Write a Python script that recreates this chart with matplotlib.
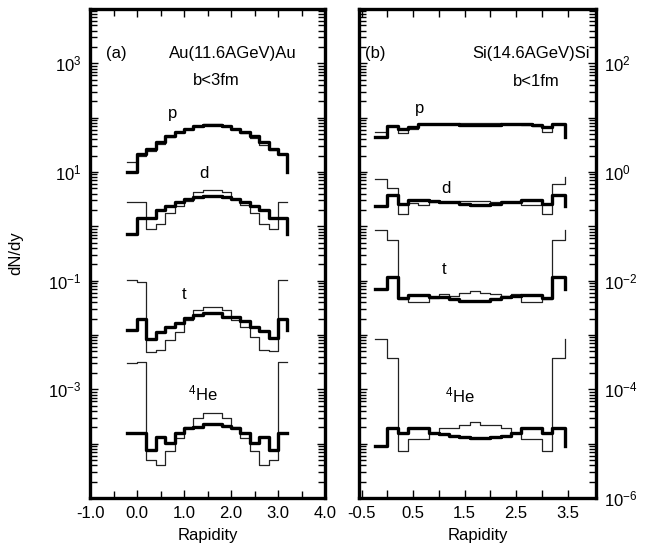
import matplotlib
matplotlib.use("Agg")
import matplotlib.pyplot as plt
import numpy as np
from matplotlib.ticker import LogLocator, FuncFormatter, MultipleLocator, FixedLocator, NullFormatter

plt.rcParams['font.family'] = ['Liberation Sans', 'DejaVu Sans']
plt.rcParams['mathtext.fontset'] = 'custom'
plt.rcParams['mathtext.rm'] = 'Liberation Sans'
plt.rcParams['mathtext.it'] = 'Liberation Sans:italic'
plt.rcParams['axes.unicode_minus'] = False

# step points (rapidity), left panel Au+Au and right panel Si+Si
au_y = [-0.22, 0.0, 0.2, 0.4, 0.6, 0.8, 1.0, 1.2, 1.4, 1.6, 1.8, 2.0, 2.2, 2.4, 2.6, 2.8, 3.0, 3.2]
si_y = [-0.24, 0.0, 0.2, 0.4, 0.6, 0.8, 1.0, 1.2, 1.4, 1.6, 1.8, 2.0, 2.2, 2.4, 2.6, 2.8, 3.0, 3.2, 3.44]

# log10(dN/dy), thick and thin histograms
au_p_thick = [1.00, 1.34, 1.43, 1.55, 1.66, 1.74, 1.80, 1.84, 1.86, 1.86, 1.84, 1.80, 1.74, 1.66, 1.55, 1.43, 1.34, 1.00]
au_p_thin = [1.19, 1.30, 1.38, 1.52, 1.64, 1.73, 1.80, 1.84, 1.89, 1.89, 1.84, 1.79, 1.72, 1.62, 1.50, 1.40, 1.34, 1.19]
au_d_thick = [-0.15, 0.16, 0.16, 0.30, 0.38, 0.45, 0.50, 0.54, 0.56, 0.56, 0.54, 0.50, 0.45, 0.38, 0.30, 0.16, 0.16, -0.15]
au_d_thin = [0.45, 0.45, -0.04, 0.05, 0.24, 0.38, 0.47, 0.63, 0.67, 0.67, 0.63, 0.50, 0.40, 0.24, 0.05, -0.04, 0.45, 0.45]
au_t_thick = [-1.90, -1.71, -2.08, -1.94, -1.86, -1.77, -1.69, -1.63, -1.60, -1.60, -1.66, -1.67, -1.75, -1.85, -1.92, -2.05, -1.71, -1.90]
au_t_thin = [-0.99, -1.02, -2.31, -2.28, -2.09, -1.94, -1.72, -1.54, -1.48, -1.48, -1.54, -1.72, -1.85, -2.03, -2.28, -2.30, -0.99, -0.99]
au_he_thick = [-3.81, -3.81, -4.11, -3.87, -3.99, -3.81, -3.72, -3.69, -3.64, -3.64, -3.68, -3.72, -3.81, -3.99, -3.87, -4.11, -3.81, -3.81]
au_he_thin = [-2.52, -2.50, -4.30, -4.39, -4.14, -3.90, -3.70, -3.53, -3.44, -3.44, -3.53, -3.70, -3.90, -4.14, -4.39, -4.30, -2.49, -2.49]

si_p_thick = [0.65, 0.84, 0.80, 0.82, 0.88, 0.89, 0.89, 0.88, 0.87, 0.86, 0.86, 0.87, 0.88, 0.89, 0.88, 0.86, 0.82, 0.88, 0.65]
si_p_thin = [0.74, 0.84, 0.72, 0.80, 0.88, 0.89, 0.89, 0.89, 0.90, 0.91, 0.91, 0.90, 0.89, 0.88, 0.87, 0.85, 0.74, 0.88, 0.74]
si_d_thick = [-0.63, -0.43, -0.58, -0.52, -0.51, -0.54, -0.55, -0.56, -0.58, -0.60, -0.60, -0.58, -0.56, -0.55, -0.52, -0.52, -0.58, -0.43, -0.63]
si_d_thin = [-0.12, -0.29, -0.77, -0.57, -0.60, -0.55, -0.55, -0.55, -0.53, -0.53, -0.53, -0.55, -0.55, -0.55, -0.60, -0.60, -0.77, -0.22, -0.09]
si_t_thick = [-2.15, -1.93, -2.31, -2.27, -2.27, -2.30, -2.30, -2.33, -2.37, -2.38, -2.37, -2.33, -2.30, -2.29, -2.27, -2.27, -2.31, -1.93, -2.15]
si_t_thin = [-1.07, -1.26, -2.33, -2.40, -2.40, -2.31, -2.25, -2.28, -2.22, -2.19, -2.22, -2.25, -2.28, -2.25, -2.40, -2.40, -2.33, -1.26, -1.07]
si_he_thick = [-5.05, -4.71, -4.80, -4.71, -4.71, -4.80, -4.82, -4.85, -4.88, -4.89, -4.89, -4.88, -4.85, -4.80, -4.71, -4.71, -4.80, -4.71, -5.05]
si_he_thin = [-3.08, -3.43, -5.14, -4.92, -4.92, -4.80, -4.71, -4.71, -4.66, -4.60, -4.66, -4.66, -4.71, -4.80, -4.92, -4.92, -5.14, -3.43, -3.08]

au_labels = [3, 1, -1, -3]
si_labels = [2, 0, -2, -4, -6]

fig = plt.figure(figsize=(6.5, 5.48), dpi=100)
ax1 = fig.add_axes([0.1385, 0.0912, 0.3615, 0.8924])
ax2 = fig.add_axes([0.5523, 0.0912, 0.3646, 0.8924])


def exp_fmt(keep):
    def f(v, pos):
        e = int(round(np.log10(v)))
        if e in keep:
            return r'$10^{%d}$' % e
        return ''
    return FuncFormatter(f)


def style(ax, keep):
    ax.set_yscale('log')
    ax.yaxis.set_major_locator(LogLocator(base=10, numticks=100))
    ax.yaxis.set_minor_locator(LogLocator(base=10, subs=(2., 3., 4., 5., 6., 7., 8., 9.), numticks=100))
    ax.yaxis.set_major_formatter(exp_fmt(keep))
    ax.yaxis.set_minor_formatter(NullFormatter())
    for s in ax.spines.values():
        s.set_linewidth(2.4)
    ax.tick_params(which='both', direction='in', top=True, bottom=True, left=True, right=True,
                   labelsize=12)
    ax.tick_params(which='major', length=6, width=1.0, pad=6)
    ax.tick_params(which='minor', length=5, width=1.0)
    ax.set_xlabel('Rapidity', fontsize=12, labelpad=5)


thick_kw = dict(where='post', color='black', lw=2.4)
thin_kw = dict(where='post', color='#222222', lw=0.9)

for thin, thick in [(au_p_thin, au_p_thick), (au_d_thin, au_d_thick),
                    (au_t_thin, au_t_thick), (au_he_thin, au_he_thick)]:
    ax1.step(au_y, 10 ** np.array(thin), **thin_kw)
    ax1.step(au_y, 10 ** np.array(thick), **thick_kw)

for thin, thick in [(si_p_thin, si_p_thick), (si_d_thin, si_d_thick),
                    (si_t_thin, si_t_thick), (si_he_thin, si_he_thick)]:
    ax2.step(si_y, 10 ** np.array(thin), **thin_kw)
    ax2.step(si_y, 10 ** np.array(thick), **thick_kw)

style(ax1, au_labels)
ax1.set_xlim(-1.0, 4.0)
ax1.set_ylim(1e-5, 1e4)
ax1.xaxis.set_major_locator(MultipleLocator(1.0))
ax1.xaxis.set_minor_locator(MultipleLocator(0.5))
ax1.xaxis.set_major_formatter(FuncFormatter(lambda v, p: '%.1f' % v))
ax1.set_ylabel('dN/dy', fontsize=12, labelpad=18)

style(ax2, si_labels)
ax2.set_xlim(-0.55, 4.05)
ax2.set_ylim(1e-6, 1e3)
ax2.xaxis.set_major_locator(FixedLocator([-0.5, 0.5, 1.5, 2.5, 3.5]))
ax2.xaxis.set_minor_locator(FixedLocator([0.0, 1.0, 2.0, 3.0]))
ax2.xaxis.set_major_formatter(FuncFormatter(lambda v, p: '%.1f' % v))
ax2.tick_params(which='both', labelleft=False, labelright=True)
ax2.tick_params(which='minor', axis='x', length=6)

fs = 12
narrow = ['Liberation Sans Narrow', 'Liberation Sans']
ax1.text(-0.43, 10 ** 3.18, '(a)', fontsize=fs, ha='center', va='center')
ax1.text(2.03, 10 ** 3.18, 'Au(11.6AGeV)Au', fontsize=fs, ha='center', va='center')
ax1.text(1.69, 10 ** 2.69, 'b<3fm', fontsize=fs, ha='center', va='center')
ax1.text(0.75, 10 ** 2.08, 'p', fontsize=fs, ha='center', va='center')
ax1.text(1.43, 10 ** 0.98, 'd', fontsize=fs, ha='center', va='center')
ax1.text(1.01, 10 ** -1.26, 't', fontsize=fs, ha='center', va='center')
ax1.text(1.39, 10 ** -3.07, r'$^{4}$He', fontsize=fs, ha='center', va='center')

ax2.text(-0.24, 10 ** 2.19, '(b)', fontsize=fs, ha='center', va='center')
ax2.text(3.92, 10 ** 2.19, 'Si(14.6AGeV)Si', fontsize=12, family=narrow, ha='right', va='center')
ax2.text(2.89, 10 ** 1.67, 'b<1fm', fontsize=12, family=narrow, ha='center', va='center')
ax2.text(0.63, 10 ** 1.17, 'p', fontsize=fs, ha='center', va='center')
ax2.text(1.13, 10 ** -0.30, 'd', fontsize=fs, ha='center', va='center')
ax2.text(1.11, 10 ** -1.79, 't', fontsize=fs, ha='center', va='center')
ax2.text(1.40, 10 ** -4.12, r'$^{4}$He', fontsize=fs, ha='center', va='center')

fig.savefig('out.png', dpi=100)
